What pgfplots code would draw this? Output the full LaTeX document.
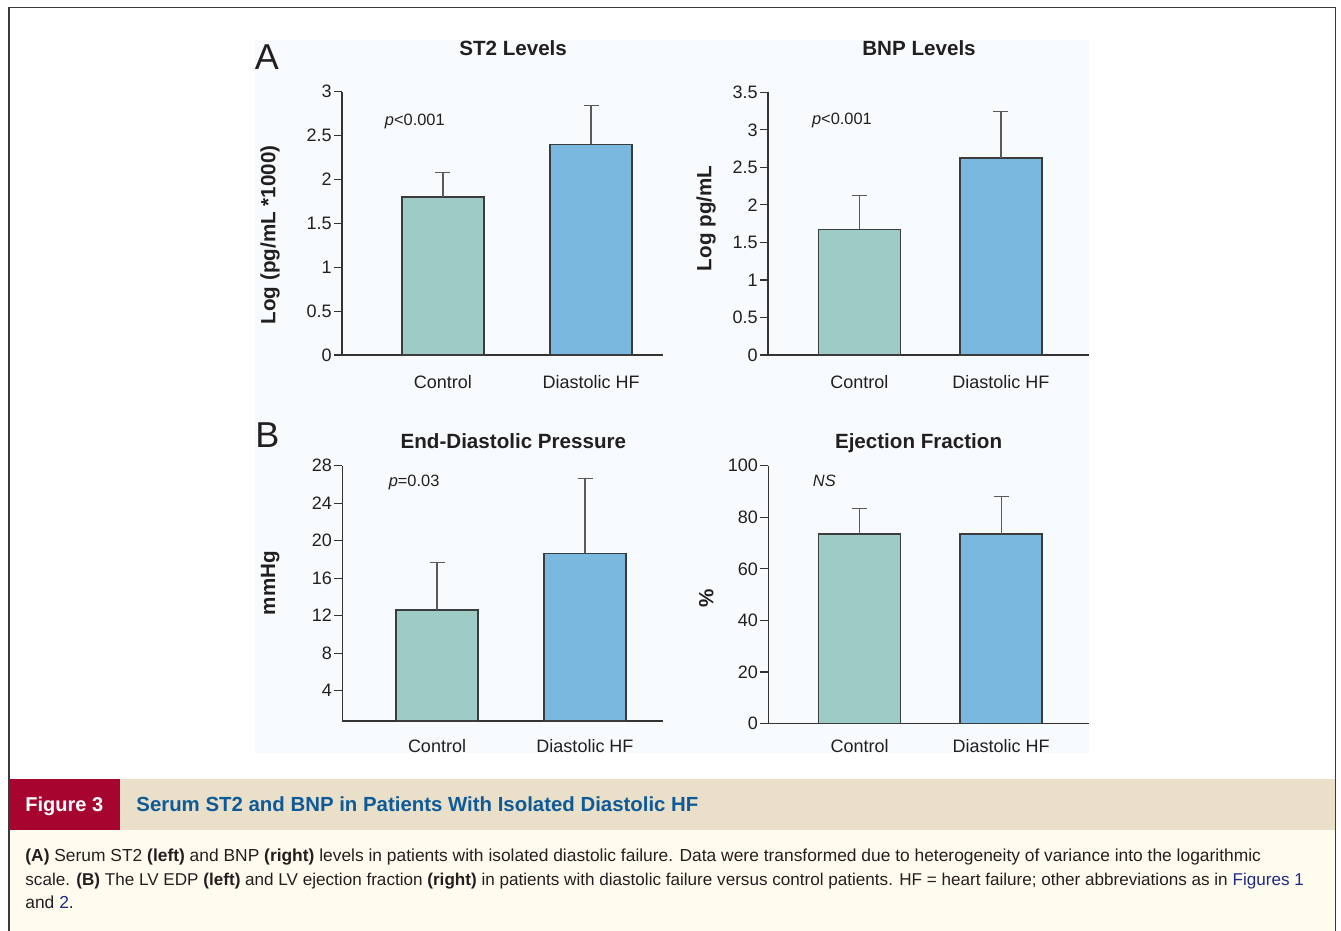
\documentclass[border=0pt]{standalone}
\usepackage{pgfplots}
\pgfplotsset{compat=1.18}
\usepackage{fontspec}
\setmainfont{Liberation Sans}
\definecolor{ctrl}{HTML}{9DCBC6}
\definecolor{dhf}{HTML}{7AB8DF}
\definecolor{edge}{HTML}{3C3C3C}
\definecolor{errgray}{HTML}{5A5A5A}
\definecolor{axisgray}{HTML}{333333}
\definecolor{txt}{HTML}{231F20}
\definecolor{panelbg}{HTML}{F7FBFD}
\definecolor{captan}{HTML}{EADFC8}
\definecolor{capred}{HTML}{A6052F}
\definecolor{capblue}{HTML}{0D5A9A}
\definecolor{capbody}{HTML}{FEFCEE}
\definecolor{linkc}{HTML}{1E2A85}
\definecolor{framec}{HTML}{3A3A3A}
\pgfplotsset{
  panel/.style={
    scale only axis, anchor=south west,
    axis x line=bottom, axis y line=left,
    axis line style={-, line width=0.7pt, draw=axisgray},
    xtick={0,1}, xticklabels={Control,Diastolic HF},
    x tick style={draw=none},
    y tick style={line width=0.6pt, draw=axisgray},
    tick align=outside, major tick length=4pt,
    tick label style={font=\fontsize{9}{10}\selectfont, text=txt},
    /pgf/number format/assume math mode=true,
    yticklabel style={inner sep=1pt},
    clip=false,
    title style={font=\fontsize{10.3}{12}\selectfont\bfseries, text=txt, anchor=base},
    ylabel style={font=\fontsize{10.3}{12}\selectfont\bfseries, text=txt, anchor=center},
    error bars/y dir=plus, error bars/y explicit,
    error bars/error bar style={line width=0.55pt, draw=errgray},
    error bars/error mark options={rotate=90, line width=0.55pt, draw=errgray, mark size=3.75pt},
  },
  ctrlbar/.style={ybar, bar width=41pt, bar shift=0pt, fill=ctrl, draw=edge, line width=0.7pt},
  dhfbar/.style={ybar, bar width=41pt, bar shift=0pt, fill=dhf, draw=edge, line width=0.7pt},
}
\newcommand{\pfont}{\fontsize{8.2}{9}\selectfont}
\begin{document}
\begin{tikzpicture}
\path[use as bounding box] (0,0) rectangle (670.5pt,465.5pt);
\fill[white] (0,0) rectangle (670.5pt,465.5pt);
\fill[panelbg] (127.5pt,89.15pt) rectangle (544.5pt,445.5pt);
% caption area
\fill[capbody] (4.5pt,0) rectangle (667.85pt,50.5pt);
\fill[captan] (4.5pt,50.5pt) rectangle (667.85pt,75.85pt);
\fill[capred] (4.5pt,50.5pt) rectangle (60pt,75.85pt);
\node[anchor=base west, inner sep=0, text=white, font=\fontsize{10}{12}\selectfont\bfseries] at (12.5pt,59.65pt) {Figure 3};
\node[anchor=base west, inner sep=0, text=capblue, font=\fontsize{10.2}{12}\selectfont\bfseries] at (68pt,59.65pt) {Serum ST2 and BNP in Patients With Isolated Diastolic HF};
\begin{scope}[every node/.style={anchor=base west, inner sep=0, text=txt, font=\fontsize{8.7}{10}\selectfont}]
\node at (12.5pt,34.65pt) {\textbf{(A)} Serum ST2 \textbf{(left)} and BNP \textbf{(right)} levels in patients with isolated diastolic failure. Data were transformed due to heterogeneity of variance into the logarithmic};
\node[font=\fontsize{8.55}{10}\selectfont] at (12.5pt,22.5pt) {scale. \textbf{(B)} The LV EDP \textbf{(left)} and LV ejection fraction \textbf{(right)} in patients with diastolic failure versus control patients. HF = heart failure; other abbreviations as in \textcolor{linkc}{Figures 1}};
\node at (12.5pt,11pt) {and \textcolor{linkc}{2}.};
\end{scope}
% panel letters
\node[font=\fontsize{18}{20}\selectfont, text=txt, inner sep=0] at (133.5pt,437pt) {A};
\node[font=\fontsize{18}{20}\selectfont, text=txt, inner sep=0] at (133.75pt,248pt) {B};

% ST2
\begin{axis}[panel, at={(171pt,288pt)}, width=160.5pt, height=131.65pt,
  xmin=-0.682, xmax=1.486, ymin=0, ymax=3,
  ytick={0,0.5,...,3}, yticklabels={0,0.5,1,1.5,2,2.5,3},
  xticklabel style={yshift=-2.5pt},
  title={ST2 Levels}, title style={at={(rel axis cs:0.533,1)}, yshift=11.85pt},
  ylabel={Log (pg/mL *1000)}, ylabel style={at={([xshift=-36pt]rel axis cs:0,0.456)}}]
\addplot[ctrlbar] coordinates {(0,1.80) +- (0,0.28)};
\addplot[dhfbar] coordinates {(1,2.40) +- (0,0.44)};
\node[font=\pfont, text=txt] at (axis cs:-0.19,2.665) {\textit{p}<0.001};
\end{axis}

% BNP
\begin{axis}[panel, at={(384pt,288pt)}, width=160.35pt, height=131.35pt,
  xmin=-0.6466, xmax=1.62, ymin=0, ymax=3.5,
  ytick={0,0.5,...,3.5}, yticklabels={0,0.5,1,1.5,2,2.5,3,3.5},
  xticklabel style={yshift=-2.5pt},
  title={BNP Levels}, title style={at={(rel axis cs:0.471,1)}, yshift=12.15pt},
  ylabel={Log pg/mL}, ylabel style={at={([xshift=-31pt]rel axis cs:0,0.52)}}]
\addplot[ctrlbar] coordinates {(0,1.675) +- (0,0.445)};
\addplot[dhfbar] coordinates {(1,2.625) +- (0,0.62)};
\node[font=\pfont, text=txt] at (axis cs:-0.124,3.12) {\textit{p}<0.001};
\end{axis}

% EDP
\begin{axis}[panel, at={(171.15pt,105pt)}, width=160.2pt, height=127.65pt,
  xmin=-0.64, xmax=1.525, ymin=0.77, ymax=28,
  ytick={4,8,...,28},
  xticklabel style={yshift=-1.5pt},
  title={End-Diastolic Pressure}, title style={at={(rel axis cs:0.534,1)}, yshift=2.5pt},
  ylabel={mmHg}, ylabel style={at={([xshift=-36pt]rel axis cs:0,0.54)}}]
\addplot[ctrlbar] coordinates {(0,12.6) +- (0,5.05)};
\addplot[dhfbar] coordinates {(1,18.65) +- (0,8.0)};
\node[font=\pfont, text=txt] at (axis cs:-0.155,26.26) {\textit{p}=0.03};
\end{axis}

% EF
\begin{axis}[panel, at={(384.15pt,103.65pt)}, width=160.2pt, height=129pt,
  xmin=-0.6466, xmax=1.62, ymin=0, ymax=100,
  ytick={0,20,...,100},
  xticklabel style={yshift=-0.5pt},
  title={Ejection Fraction}, title style={at={(rel axis cs:0.469,1)}, yshift=2.7pt},
  ylabel={\%}, ylabel style={at={([xshift=-31pt]rel axis cs:0,0.487)}}]
\addplot[ctrlbar] coordinates {(0,73.5) +- (0,10.0)};
\addplot[dhfbar] coordinates {(1,73.5) +- (0,14.6)};
\node[font=\pfont, text=txt] at (axis cs:-0.25,94) {\textit{NS}};
\end{axis}

% frame
\draw[framec, line width=0.75pt] (4.5pt,0) -- (4.5pt,461.75pt) -- (667.85pt,461.75pt) -- (667.85pt,0);
\end{tikzpicture}
\end{document}
